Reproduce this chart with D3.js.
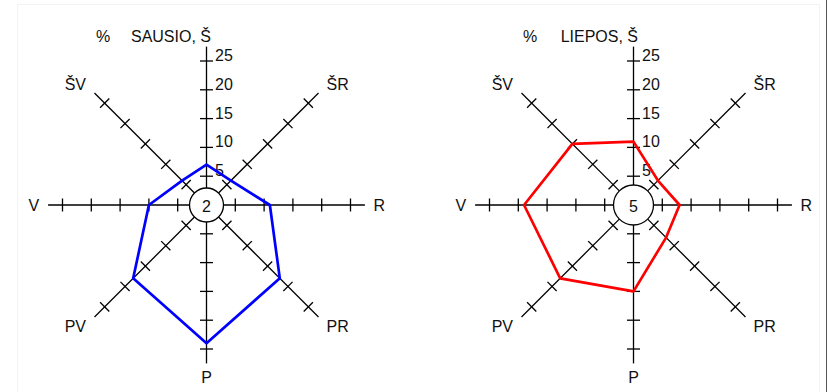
<!DOCTYPE html>
<html>
<head>
<meta charset="utf-8">
<script src="https://cdn.jsdelivr.net/npm/d3@7"></script>
<style>
  body { margin: 0; background: #fff; }
  text { font-family: "Liberation Sans", Arial, sans-serif; font-size: 16px; fill: #111; }
</style>
</head>
<body>
<div id="chart"></div>
<script>
// wind directions, clockwise from north
var directions = ["Š", "ŠR", "R", "PR", "P", "PV", "V", "ŠV"];
var tickValues = [5, 10, 15, 20, 25];
var titles = ["SAUSIO, Š", "LIEPOS, Š"];
var calm = [2, 5];
var sausio = [7, 6, 11, 18, 24, 18, 10, 6];
var liepos = [11, 6, 8, 8, 15, 18, 19, 15];

var series = [sausio, liepos];
var colors = ["#0000ff", "#ff0000"];
var centers = [[206.5, 205], [633.5, 205]];
var circleR = [17, 20];

var width = 828, height = 392;

var svg = d3.select("#chart").append("svg")
    .attr("width", width)
    .attr("height", height);

// faint frame like the source image
svg.append("rect")
    .attr("x", 17.5).attr("y", 4.5)
    .attr("width", 802).attr("height", 400)
    .attr("fill", "none")
    .attr("stroke", "#f3f3f3");
svg.append("line")
    .attr("x1", 826.5).attr("x2", 826.5)
    .attr("y1", 0).attr("y2", height)
    .attr("stroke", "#555");

var r = d3.scaleLinear().domain([0, 25]).range([0, 144]);
var angle = d3.scaleLinear().domain([0, directions.length]).range([0, 2 * Math.PI]);

function pos(i, v) {
    var a = angle(i);
    return [Math.sin(a) * r(v), -Math.cos(a) * r(v)];
}

series.forEach(function(data, k) {
    var g = svg.append("g")
        .attr("transform", "translate(" + centers[k][0] + "," + centers[k][1] + ")");

    // axes
    directions.forEach(function(d, i) {
        var a = angle(i);
        var s = Math.sin(a), c = -Math.cos(a);
        g.append("line")
            .attr("x1", s * circleR[k]).attr("y1", c * circleR[k])
            .attr("x2", s * r(27.5)).attr("y2", c * r(27.5))
            .attr("stroke", "#000")
            .attr("stroke-width", 1.3);

        // ticks, perpendicular to the axis
        g.selectAll(null)
            .data(tickValues)
            .enter().append("line")
            .attr("x1", function(v) { return s * r(v) - c * 6.5; })
            .attr("y1", function(v) { return c * r(v) + s * 6.5; })
            .attr("x2", function(v) { return s * r(v) + c * 6.5; })
            .attr("y2", function(v) { return c * r(v) - s * 6.5; })
            .attr("stroke", "#000")
            .attr("stroke-width", 1.3);

        // direction names (north is in the title)
        if (i > 0) {
            var p = pos(i, 30);
            var extra = (i % 2 === 1) ? (s > 0 ? 9 : -9) : 0;
            g.append("text")
                .attr("x", p[0] + extra)
                .attr("y", p[1] + (i % 2 === 1 ? (c < 0 ? 2 : -1) : 0))
                .attr("text-anchor", "middle")
                .attr("dominant-baseline", "central")
                .text(d);
        }
    });

    // tick labels on the north axis
    g.selectAll(null)
        .data(tickValues)
        .enter().append("text")
        .attr("x", 8.5)
        .attr("y", function(v) { return -r(v); })
        .text(function(v) { return v; });

    // calm circle
    g.append("circle")
        .attr("r", circleR[k])
        .attr("fill", "#fff")
        .attr("stroke", "#000")
        .attr("stroke-width", 1.3);
    g.append("text")
        .attr("text-anchor", "middle")
        .attr("dominant-baseline", "central")
        .attr("y", 1)
        .text(calm[k]);

    // wind rose polygon
    var line = d3.lineRadial()
        .angle(function(d, i) { return angle(i); })
        .radius(function(d) { return r(d); })
        .curve(d3.curveLinearClosed);

    g.append("path")
        .datum(data)
        .attr("fill", "none")
        .attr("stroke", colors[k])
        .attr("stroke-width", 2.7)
        .attr("stroke-linejoin", "round")
        .attr("d", line);

    // title
    g.append("text")
        .attr("x", -103.5)
        .attr("y", -163.5)
        .attr("text-anchor", "middle")
        .text("%");
    g.append("text")
        .attr("x", 4.5)
        .attr("y", -163.5)
        .attr("text-anchor", "end")
        .text(titles[k]);
});
</script>
</body>
</html>
